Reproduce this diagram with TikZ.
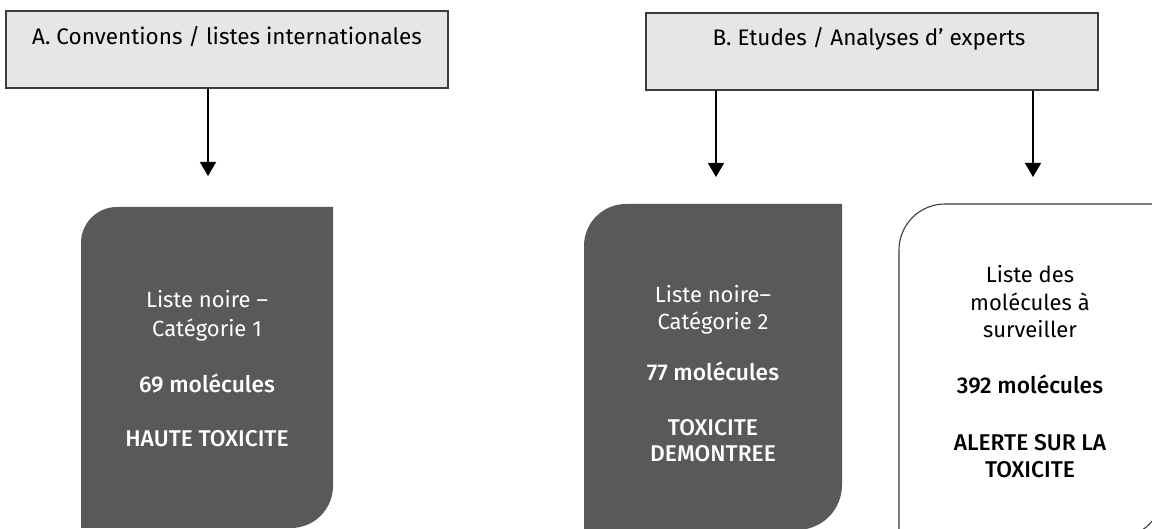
\documentclass[tikz,border=0pt]{standalone}
\usepackage{fontspec}
\setmainfont{Fira Sans}[BoldFont={Fira Sans Medium}]
\usetikzlibrary{arrows.meta}
\definecolor{darkfill}{HTML}{595959}
\definecolor{headfill}{HTML}{E6E6E6}
\definecolor{edgegray}{HTML}{3C3C3C}
\newcommand\bt[1]{{\fontsize{22.8}{27.5}\selectfont\bfseries #1}}
\tikzset{
  headbox/.style={draw=edgegray, line width=1.2pt, fill=headfill, inner sep=0pt},
  headtext/.style={anchor=base, inner sep=0pt, font=\fontsize{22.5}{27}\selectfont, text=black},
  arr/.style={line width=1.3pt, draw=black, -{Triangle[width=16pt,length=14pt]}},
  listtext/.style={anchor=north, inner sep=0pt, align=center, font=\fontsize{22}{27.5}\selectfont},
  darkshape/.style={fill=darkfill},
  lightshape/.style={draw=edgegray, line width=1.1pt, fill=white}
}
\begin{document}
\begin{tikzpicture}[x=1pt,y=1pt]
\useasboundingbox (0,0) rectangle (1152,529);
\fill[white] (0,0) rectangle (1152,529);
\clip (0,0) rectangle (1152,529);
% header boxes
\node[headbox, minimum width=442pt, minimum height=77pt] (A) at (227,479.5) {};
\node[headtext] (Atxt) at (227,484) {A. Conventions / listes internationales};
\node[headbox, minimum width=452pt, minimum height=77pt] (B) at (872,477.5) {};
\node[headtext] (Btxt) at (869,483) {B. Etudes / Analyses d’ experts};
% arrow ends
\coordinate (a1) at (208,353);
\coordinate (b1) at (716,352);
\coordinate (b2) at (1033,352);
\draw[arr] (A.south -| a1) -- (a1);
\draw[arr] (B.south -| b1) -- (b1);
\draw[arr] (B.south -| b2) -- (b2);
% dark box 1
\path[darkshape] (81,1) -- (81,286) arc[start angle=180, end angle=90, radius=36] -- (333,322) -- (333,43) arc[start angle=0, end angle=-90, radius=42] -- cycle;
\node[listtext, text=white] (L1) at (207,241.25) {\strut Liste noire –\\[1.5pt]Catégorie 1\\[28.5pt]\bt{69 molécules}\\[26.5pt]\bt{HAUTE TOXICITE}};
% dark box 2
\path[darkshape] (584,-1) -- (584,283) arc[start angle=180, end angle=90, radius=42] -- (842,325) -- (842,44) arc[start angle=0, end angle=-90, radius=45] -- cycle;
\node[listtext, text=white] (L2) at (713,246.25) {\strut Liste noire–\\[-0.5pt]Catégorie 2\\[23.5pt]\bt{77 molécules}\\[27.5pt]\bt{TOXICITE}\\[-1.5pt]\bt{DEMONTREE}};
% white box
\path[lightshape] (899,-7) -- (899,279) arc[start angle=180, end angle=90, radius=46] -- (1161,325) -- (1161,33) arc[start angle=0, end angle=-90, radius=40] -- cycle;
\node[listtext, text=black] (L3) at (1030,266.25) {\strut Liste des\\[0.5pt]molécules à\\[-0.5pt]surveiller\\[28.5pt]\bt{392 molécules}\\[29.5pt]\bt{ALERTE SUR LA}\\[-0.5pt]\bt{TOXICITE}};
\end{tikzpicture}
\end{document}
